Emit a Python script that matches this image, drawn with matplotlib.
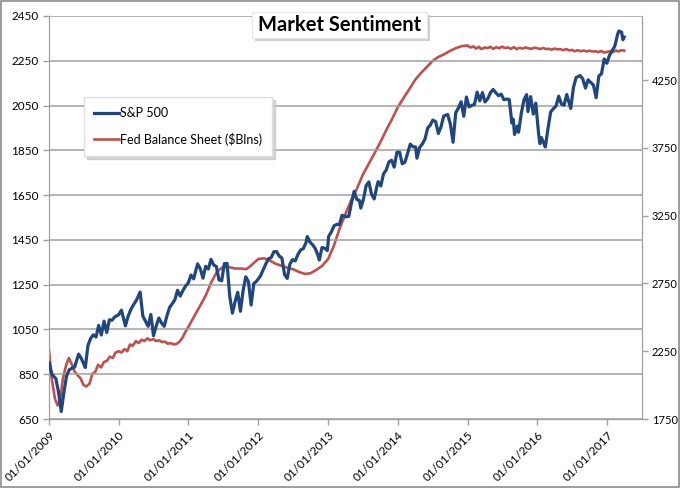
import matplotlib
matplotlib.use("Agg")
import matplotlib.pyplot as plt
import matplotlib.dates as mdates
from matplotlib.patches import Rectangle
import pandas as pd

plt.rcParams['font.family'] = ['Lato', 'DejaVu Sans']

# S&P 500 (left axis), every two weeks
sp_dates = [
    "2009-01-02", "2009-01-16", "2009-02-06", "2009-02-20", "2009-03-06", "2009-03-20", "2009-04-03",
    "2009-04-17", "2009-05-01", "2009-05-15", "2009-06-05", "2009-06-19", "2009-07-02", "2009-07-10",
    "2009-07-24", "2009-08-07", "2009-08-21", "2009-09-04", "2009-09-18", "2009-10-02", "2009-10-16",
    "2009-10-30", "2009-11-13", "2009-11-27", "2009-12-11", "2009-12-31",
    "2010-01-15", "2010-02-05", "2010-02-19", "2010-03-05", "2010-03-19", "2010-04-02", "2010-04-23",
    "2010-05-07", "2010-05-21", "2010-06-04", "2010-06-18", "2010-07-02", "2010-07-16", "2010-07-30",
    "2010-08-13", "2010-08-27", "2010-09-10", "2010-09-24", "2010-10-08", "2010-10-22", "2010-11-05",
    "2010-11-19", "2010-12-03", "2010-12-17", "2010-12-31",
    "2011-01-14", "2011-01-28", "2011-02-18", "2011-03-04", "2011-03-18", "2011-04-01", "2011-04-15",
    "2011-04-29", "2011-05-13", "2011-05-27", "2011-06-10", "2011-06-24", "2011-07-08", "2011-07-22",
    "2011-08-05", "2011-08-19", "2011-09-02", "2011-09-16", "2011-09-30", "2011-10-14", "2011-10-28",
    "2011-11-11", "2011-11-25", "2011-12-09", "2011-12-23",
    "2012-01-13", "2012-01-27", "2012-02-10", "2012-02-24", "2012-03-09", "2012-03-23", "2012-04-06",
    "2012-04-20", "2012-05-04", "2012-05-18", "2012-06-01", "2012-06-15", "2012-06-29", "2012-07-13",
    "2012-07-27", "2012-08-10", "2012-08-24", "2012-09-07", "2012-09-14", "2012-09-28", "2012-10-12",
    "2012-10-26", "2012-11-09", "2012-11-16", "2012-11-30", "2012-12-14", "2012-12-28",
    "2013-01-04", "2013-01-18", "2013-02-01", "2013-02-15", "2013-03-01", "2013-03-15", "2013-04-05",
    "2013-04-19", "2013-05-03", "2013-05-17", "2013-05-31", "2013-06-14", "2013-06-21", "2013-07-05",
    "2013-07-19", "2013-08-02", "2013-08-16", "2013-08-30", "2013-09-13", "2013-09-20", "2013-10-04",
    "2013-10-18", "2013-11-01", "2013-11-15", "2013-11-29", "2013-12-13", "2013-12-27",
    "2014-01-10", "2014-01-24", "2014-02-07", "2014-02-21", "2014-03-07", "2014-03-21", "2014-04-04",
    "2014-04-11", "2014-04-25", "2014-05-09", "2014-05-23", "2014-06-06", "2014-06-20", "2014-07-03",
    "2014-07-18", "2014-08-01", "2014-08-15", "2014-08-29", "2014-09-19", "2014-10-03", "2014-10-17",
    "2014-10-31", "2014-11-14", "2014-11-28", "2014-12-12", "2014-12-26",
    "2015-01-09", "2015-01-23", "2015-02-06", "2015-02-20", "2015-03-06", "2015-03-20", "2015-04-02",
    "2015-04-17", "2015-05-01", "2015-05-15", "2015-05-29", "2015-06-12", "2015-06-26", "2015-07-10",
    "2015-07-24", "2015-08-07", "2015-08-21", "2015-08-28", "2015-09-04", "2015-09-18", "2015-09-25",
    "2015-10-09", "2015-10-23", "2015-11-06", "2015-11-13", "2015-11-27", "2015-12-11", "2015-12-24",
    "2016-01-08", "2016-01-15", "2016-01-22", "2016-02-05", "2016-02-12", "2016-02-26", "2016-03-11",
    "2016-03-24", "2016-04-08", "2016-04-22", "2016-05-06", "2016-05-20", "2016-06-03", "2016-06-24",
    "2016-07-08", "2016-07-22", "2016-08-12", "2016-08-26", "2016-09-09", "2016-09-23", "2016-10-07",
    "2016-10-21", "2016-11-04", "2016-11-18", "2016-12-02", "2016-12-16", "2016-12-30",
    "2017-01-13", "2017-01-27", "2017-02-10", "2017-02-24", "2017-03-03", "2017-03-17", "2017-03-24",
    "2017-03-31",
]
sp_values = [
    900, 850, 830, 770, 683, 770, 842, 870, 877, 882, 940, 921, 896, 880,
    979, 1010, 1026, 1016, 1068, 1025, 1087, 1036, 1093, 1091, 1106, 1115,
    1136, 1066, 1109, 1138, 1160, 1178, 1217, 1110, 1087, 1064, 1117, 1022, 1065, 1101,
    1079, 1064, 1110, 1148, 1165, 1183, 1225, 1199, 1224, 1244, 1258,
    1293, 1276, 1343, 1321, 1279, 1332, 1320, 1363, 1338, 1331, 1271, 1268, 1344, 1345,
    1199, 1123, 1174, 1216, 1131, 1224, 1285, 1263, 1159, 1255, 1265,
    1289, 1316, 1343, 1366, 1371, 1397, 1398, 1378, 1369, 1295, 1278, 1342, 1362, 1356,
    1385, 1405, 1411, 1437, 1465, 1440, 1428, 1411, 1380, 1360, 1416, 1413, 1402,
    1466, 1486, 1513, 1519, 1518, 1560, 1553, 1555, 1614, 1667, 1631, 1626, 1592, 1632,
    1692, 1709, 1655, 1633, 1688, 1710, 1691, 1745, 1762, 1798, 1806, 1775, 1841,
    1842, 1790, 1797, 1836, 1878, 1866, 1865, 1815, 1863, 1878, 1900, 1949, 1963, 1985,
    1978, 1925, 1955, 2003, 2010, 1967, 1886, 2018, 2039, 2067, 2002, 2088,
    2044, 2051, 2055, 2110, 2071, 2108, 2066, 2081, 2108, 2122, 2107, 2094, 2101, 2076,
    2079, 2077, 1971, 1989, 1921, 1958, 1931, 2014, 2075, 2099, 2023, 2090, 2012, 2061,
    1922, 1880, 1907, 1880, 1865, 1948, 2022, 2035, 2048, 2092, 2057, 2052, 2099, 2037,
    2130, 2175, 2184, 2169, 2128, 2165, 2153, 2141, 2085, 2182, 2192, 2258, 2239,
    2275, 2295, 2316, 2367, 2383, 2378, 2344, 2356,
]

# Fed balance sheet in $bn (right axis)
fed_dates = [
    "2009-01-01", "2009-01-15", "2009-02-01", "2009-02-15", "2009-03-01", "2009-03-15", "2009-04-01",
    "2009-04-15", "2009-05-01", "2009-05-15", "2009-06-01", "2009-06-15", "2009-07-01", "2009-07-15",
    "2009-08-01", "2009-08-15", "2009-09-01", "2009-09-15", "2009-10-01", "2009-10-15", "2009-11-01",
    "2009-11-15", "2009-12-01", "2009-12-15",
    "2010-01-01", "2010-01-15", "2010-02-01", "2010-02-15", "2010-03-01", "2010-03-15", "2010-04-01",
    "2010-04-15", "2010-05-01", "2010-05-15", "2010-06-01", "2010-06-15", "2010-07-01", "2010-07-15",
    "2010-08-01", "2010-08-15", "2010-09-01", "2010-09-15", "2010-10-01", "2010-10-15", "2010-11-01",
    "2010-11-15", "2010-12-01", "2010-12-15",
    "2011-01-01", "2011-02-01", "2011-03-01", "2011-04-01", "2011-05-01", "2011-06-01", "2011-07-01",
    "2011-08-01", "2011-09-01", "2011-10-01", "2011-11-01", "2011-12-01",
    "2012-01-01", "2012-02-01", "2012-03-01", "2012-04-01", "2012-05-01", "2012-06-01", "2012-07-01",
    "2012-08-01", "2012-09-01", "2012-10-01", "2012-11-01", "2012-12-01",
    "2013-01-01", "2013-02-01", "2013-03-01", "2013-04-01", "2013-05-01", "2013-06-01", "2013-07-01",
    "2013-08-01", "2013-09-01", "2013-10-01", "2013-11-01", "2013-12-01",
    "2014-01-01", "2014-02-01", "2014-03-01", "2014-04-01", "2014-05-01", "2014-06-01", "2014-07-01",
    "2014-08-01", "2014-09-01", "2014-10-01", "2014-11-01", "2014-12-01",
    "2015-01-01", "2015-01-15", "2015-02-01", "2015-02-15", "2015-03-01", "2015-03-15", "2015-04-01",
    "2015-04-15", "2015-05-01", "2015-05-15", "2015-06-01", "2015-06-15", "2015-07-01", "2015-07-15",
    "2015-08-01", "2015-08-15", "2015-09-01", "2015-09-15", "2015-10-01", "2015-10-15", "2015-11-01",
    "2015-11-15", "2015-12-01", "2015-12-15",
    "2016-01-01", "2016-01-15", "2016-02-01", "2016-02-15", "2016-03-01", "2016-03-15", "2016-04-01",
    "2016-04-15", "2016-05-01", "2016-05-15", "2016-06-01", "2016-06-15", "2016-07-01", "2016-07-15",
    "2016-08-01", "2016-08-15", "2016-09-01", "2016-09-15", "2016-10-01", "2016-10-15", "2016-11-01",
    "2016-11-15", "2016-12-01", "2016-12-15",
    "2017-01-01", "2017-01-15", "2017-02-01", "2017-02-15", "2017-03-01", "2017-03-15", "2017-03-31",
]
fed_values = [
    2260, 2050, 1900, 1850, 1900, 2050, 2150, 2200, 2150, 2100, 2070, 2050, 2000, 1990,
    2010, 2080, 2100, 2150, 2130, 2170, 2180, 2210, 2200, 2240,
    2250, 2240, 2265, 2250, 2300, 2290, 2325, 2310, 2335, 2325, 2345, 2330, 2340, 2325,
    2330, 2318, 2320, 2305, 2310, 2300, 2305, 2320, 2350, 2390,
    2430, 2510, 2580, 2660, 2760, 2840, 2870, 2870, 2860, 2860, 2855, 2890,
    2930, 2935, 2920, 2895, 2880, 2865, 2855, 2835, 2820, 2825, 2850, 2880,
    2930, 3030, 3150, 3260, 3360, 3450, 3550, 3630, 3710, 3790, 3880, 3960,
    4050, 4120, 4180, 4250, 4300, 4345, 4390, 4420, 4440, 4465, 4485, 4500,
    4505, 4490, 4498, 4482, 4495, 4478, 4490, 4485, 4495, 4480, 4492, 4484, 4496, 4486,
    4490, 4480, 4492, 4478, 4488, 4482, 4490, 4484, 4480, 4488,
    4485, 4478, 4486, 4478, 4480, 4474, 4482, 4476, 4478, 4470, 4478, 4468, 4472, 4462,
    4470, 4462, 4468, 4460, 4466, 4460, 4462, 4456, 4464, 4452,
    4458, 4462, 4456, 4468, 4460, 4470, 4466,
]

left_ticks = [650, 850, 1050, 1250, 1450, 1650, 1850, 2050, 2250, 2450]
right_ticks = [1750, 2250, 2750, 3250, 3750, 4250]

sp = pd.Series(sp_values, index=pd.to_datetime(sp_dates))
fed = pd.Series(fed_values, index=pd.to_datetime(fed_dates))

W, H = 680, 488
fig = plt.figure(figsize=(6.8, 4.88), dpi=100)
ax = fig.add_axes([49 / W, 1 - 419 / H, (642 - 49) / W, (419 - 16) / H])
ax2 = ax.twinx()

grid_c = '#a0a0a0'
ax.set_ylim(650, 2450)
ax.set_yticks(left_ticks)
ax.yaxis.grid(True, color=grid_c, lw=1.1)
ax.set_axisbelow(True)
ax2.set_ylim(1750, 4722)
ax2.set_yticks(right_ticks)

ax.set_xlim(pd.Timestamp("2009-01-01"), pd.Timestamp("2017-07-02"))
ax.xaxis.set_major_locator(mdates.YearLocator())
ax.xaxis.set_major_formatter(mdates.DateFormatter('%d/%m/%Y'))

for a in (ax, ax2):
    for s in a.spines.values():
        s.set_color(grid_c)
    a.spines['top'].set_visible(False)
    a.tick_params(colors=grid_c, labelcolor='black', labelsize=8.5, length=4, width=1)
ax2.tick_params(labelsize=8, pad=3)

for lab in ax.get_xticklabels():
    lab.set_rotation(45)
    lab.set_ha('right')
    lab.set_rotation_mode('anchor')

l1, = ax.plot(sp.index, sp.values, color='#1f467f', lw=2.3, label='S&P 500', zorder=3)
l2, = ax2.plot(fed.index, fed.values, color='#c0504d', lw=1.9, label='Fed Balance Sheet ($Blns)', zorder=2)
ax.set_zorder(ax2.get_zorder() + 1)
ax.patch.set_visible(False)

ax.legend(handles=[l1, l2], loc='upper left', bbox_to_anchor=(84 / W, 1 - 97 / H),
          bbox_transform=fig.transFigure, borderaxespad=0, fontsize=9, handlelength=2,
          handletextpad=0.1, labelspacing=1.1, fancybox=False, framealpha=1,
          edgecolor='#e0e0e0', borderpad=0.8,
          shadow={'color': '#c8c8c8', 'alpha': 0.8})

# title box (pixel box 252..427 x 12..38) with a soft shadow
bx0, bx1, by0, by1 = 252, 427, 12, 38
fig.patches.append(Rectangle((bx0 / W + 3 / W, 1 - by1 / H - 3 / H), (bx1 - bx0) / W, (by1 - by0) / H,
                             transform=fig.transFigure, fc='#cfcfcf', ec='none', zorder=5))
fig.patches.append(Rectangle((bx0 / W, 1 - by1 / H), (bx1 - bx0) / W, (by1 - by0) / H,
                             transform=fig.transFigure, fc='white', ec='#e6e6e6', lw=0.8, zorder=6))
fig.text((bx0 + bx1) / 2 / W, 1 - (by0 + by1) / 2 / H, 'Market Sentiment', ha='center', va='center',
         fontsize=14.5, fontweight='bold', color='black', zorder=7)

fig.patches.append(Rectangle((0.002, 0.002), 0.996, 0.996, transform=fig.transFigure,
                             fill=False, ec='#8c8c8c', lw=1.2))

fig.savefig('out.png', dpi=100)
